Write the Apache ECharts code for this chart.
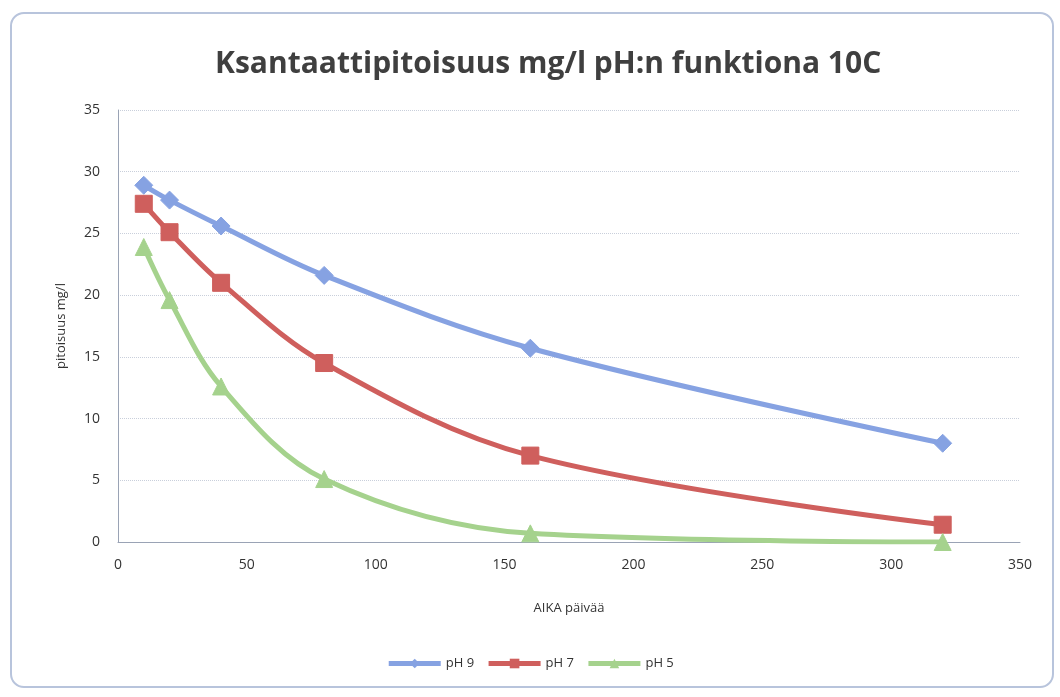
<!DOCTYPE html>
<html>
<head>
<meta charset="utf-8">
<script src="https://cdn.jsdelivr.net/npm/echarts@6/dist/echarts.min.js"></script>
<style>
  html, body { margin: 0; padding: 0; background: #fff; }
  #frame { position: absolute; left: 10px; top: 12px; width: 1044px; height: 676px; border: 2px solid #b8c4dc; border-radius: 14px; box-sizing: border-box; }
  #chart { width: 1060px; height: 697px; }
</style>
</head>
<body>
<div id="frame"></div>
<div id="chart"></div>
<script>
// days
const days = [10, 20, 40, 80, 160, 320]
const ph9 = [28.9, 27.7, 25.6, 21.6, 15.7, 8.0]
const ph7 = [27.4, 25.1, 21.0, 14.5, 7.0, 1.4]
const ph5 = [23.9, 19.6, 12.6, 5.1, 0.7, 0.0]

const font = '"Open Sans", "Liberation Sans", sans-serif'
const chart = echarts.init(document.getElementById('chart'))

function mk(name, vals, color, symbol) {
  return {
    name, type: 'line', smooth: 0.35,
    data: days.map((d, i) => [d, vals[i]]),
    symbol, symbolSize: symbol === 'diamond' ? 18 : 17,
    lineStyle: { color, width: 5 },
    itemStyle: { color, borderColor: color },
    z: 3
  }
}

chart.setOption({
  animation: false,
  title: {
    text: 'Ksantaattipitoisuus mg/l pH:n funktiona 10C',
    left: 210, top: 44,
    textStyle: { fontFamily: font, fontSize: 30, fontWeight: 'bold', color: '#3f3f3f' }
  },
  grid: { left: 118, right: 40, top: 110, bottom: 155 },
  xAxis: {
    type: 'value', min: 0, max: 350, interval: 50,
    name: 'AIKA päivää', nameLocation: 'middle', nameGap: 60,
    nameTextStyle: { fontFamily: font, fontSize: 13, color: '#333' },
    axisLine: { lineStyle: { color: '#9aa3b5' } },
    axisTick: { show: false },
    axisLabel: { fontFamily: font, fontSize: 14, color: '#333', margin: 16 },
    splitLine: { show: false }
  },
  yAxis: {
    type: 'value', min: 0, max: 35, interval: 5,
    name: 'pitoisuus mg/l', nameLocation: 'middle', nameGap: 50,
    nameTextStyle: { fontFamily: font, fontSize: 13, color: '#333' },
    axisLine: { show: true, lineStyle: { color: '#9aa3b5' } },
    axisTick: { show: false },
    axisLabel: { fontFamily: font, fontSize: 14, color: '#333', margin: 18 },
    splitLine: { lineStyle: { color: '#c9cfdb', type: 'dotted' } }
  },
  legend: {
    bottom: 22, left: 'center', itemWidth: 52, itemHeight: 12, itemGap: 12,
    textStyle: { fontFamily: font, fontSize: 13, color: '#333' },
    lineStyle: { width: 5 },
    data: ['pH 9', 'pH 7', 'pH 5']
  },
  series: [
    mk('pH 9', ph9, '#86a2e2', 'diamond'),
    mk('pH 7', ph7, '#cf5f5d', 'rect'),
    mk('pH 5', ph5, '#a5d28d', 'triangle')
  ]
})
</script>
</body>
</html>
